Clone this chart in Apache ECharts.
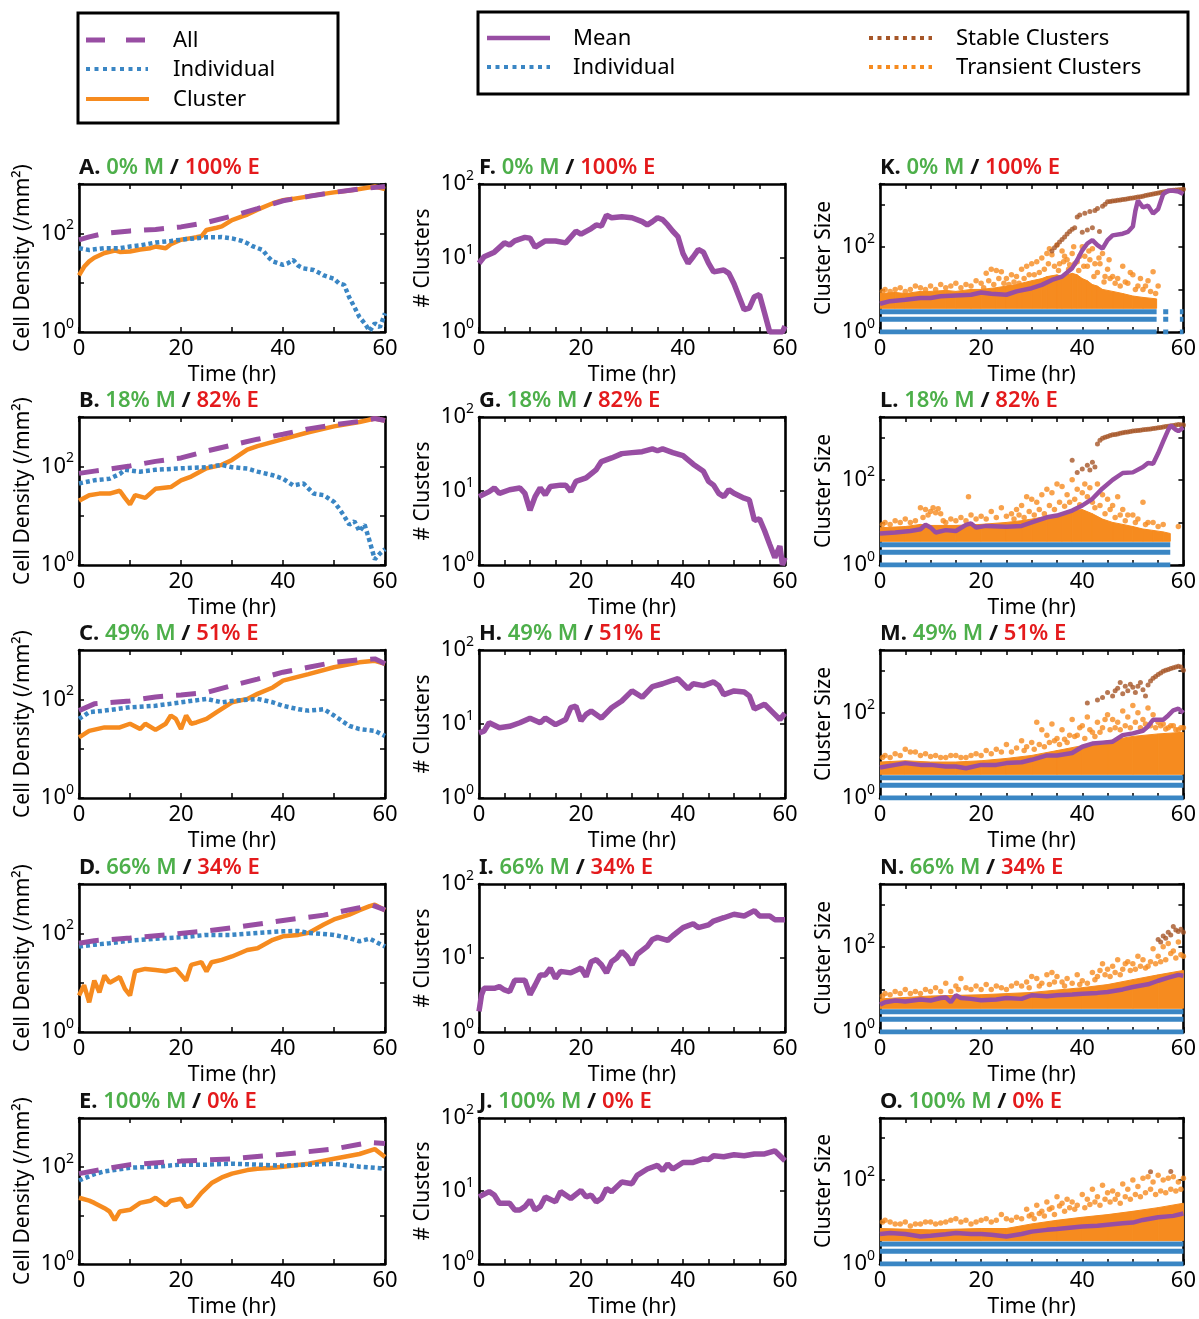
<!DOCTYPE html>
<html>
<head>
<meta charset="utf-8">
<script src="https://cdn.jsdelivr.net/npm/echarts@6/dist/echarts.min.js"></script>
<style>
html, body { margin: 0; background: #fff; }
#chart { width: 1199px; height: 1319px; }
</style>
</head>
<body>
<div id="chart"></div>
<script>
// ---- data: [time (hr), value] ----
// column 1: cell density (/mm2)
var allA = [[0,74],[2,85],[5,100],[10,112],[15,120],[20,135],[25,166],[30,224],[35,316],[40,457],[45,562],[50,676],[55,794],[60,891]];
var indA = [[0,50],[2,46],[5,50],[8,50],[10,54],[12,57],[15,65],[18,70],[20,74],[22,78],[25,83],[28,84],[30,79],[32,70],[33,63],[34,55],[36,46],[37,34],[38,27],[40,23],[41,25],[42,29],[43,22],[44,19.5],[46,18],[47,16],[48,14],[50,12],[51,9.6],[52,9],[53,5],[54,3.2],[55,2],[56,1.5],[57,1.05],[58,1.5],[59,1.25],[60,2.4]];
var cluA = [[0,14],[1,21],[2,27],[3,32],[5,40],[7,45],[8,42],[10,43],[12,47],[14,50],[15,54],[17,50],[18,60],[20,74],[22,80],[23,83],[24,87],[25,117],[27,130],[28,138],[30,186],[32,220],[33,240],[35,302],[38,407],[40,468],[42,500],[45,562],[48,630],[50,676],[53,740],[55,794],[58,891],[60,794]];

var allB = [[0,72],[3,80],[5,85],[10,102],[15,126],[20,148],[25,204],[30,269],[35,355],[40,447],[45,575],[50,692],[55,813],[58,933],[60,851]];
var indB = [[0,45],[3,52],[6,56],[8,70],[9,85],[12,78],[15,85],[20,91],[25,96],[28,107],[30,96],[33,90],[35,78],[38,66],[40,56],[42,41],[44,45],[46,28],[48,26],[50,19],[51,14],[52,9.8],[53,6.6],[54,7.7],[55,4.8],[56,6.6],[57,3],[58,1.3],[59,1.7],[60,2.1]];
var cluB = [[0,20],[2,26],[4,28],[6,28],[8,32],[9,23],[10,17],[11,26],[13,23],[15,35],[18,38],[20,52],[22,62],[25,91],[28,107],[30,135],[33,219],[35,257],[40,355],[45,490],[50,646],[55,794],[58,933],[60,851]];

var allC = [[0,59],[3,81],[10,93],[15,112],[20,123],[25,138],[30,190],[35,257],[40,355],[45,447],[50,562],[55,631],[58,661],[60,525]];
var indC = [[0,40],[2,55],[5,59],[10,69],[15,74],[20,87],[25,102],[28,87],[30,93],[35,102],[38,87],[40,74],[43,63],[45,59],[48,63],[50,47],[53,29],[55,25],[58,23],[60,18]];
var cluC = [[0,17],[2,23],[5,27],[8,27],[10,32],[12,25],[13,32],[15,24],[17,32],[18,47],[19,40],[20,25],[21,47],[22,32],[23,34],[25,40],[27,55],[30,87],[33,102],[35,129],[38,174],[40,240],[45,324],[50,447],[55,562],[58,603],[60,525]];

var allD = [[0,63],[3,71],[10,80],[17,93],[25,112],[32,138],[40,182],[48,234],[55,331],[57,389],[60,300]];
var indD = [[0,54],[3,59],[6,63],[10,71],[15,78],[20,83],[25,93],[30,93],[35,102],[40,110],[43,112],[45,102],[50,93],[53,80],[55,69],[57,78],[60,54]];
var cluD = [[0,5.5],[1,8.9],[2,4],[3,11],[4,6.4],[5,14],[6,10],[8,13],[9,7.5],[10,5.5],[11,17],[13,19],[15,18],[17,17],[19,19],[21,11],[22,23],[24,26],[25,17],[26,26],[28,29],[30,34],[33,46],[35,50],[38,74],[40,87],[43,93],[45,102],[48,151],[50,191],[53,240],[55,295],[57,355],[58,380],[60,295]];

var allE = [[0,72],[5,90],[10,110],[20,130],[30,145],[40,180],[50,230],[57,316],[60,300]];
var indE = [[0,52],[3,70],[5,80],[10,95],[15,100],[20,110],[25,110],[30,115],[35,110],[40,105],[45,110],[50,115],[55,100],[60,91]];
var cluE = [[0,23],[2,20],[3,18],[5,14],[6,12],[7,8],[8,12],[10,13],[12,18],[14,20],[15,23],[17,16],[18,20],[20,22],[21,15],[22,16],[24,29],[26,46],[28,60],[30,72],[33,85],[35,91],[38,95],[40,100],[45,115],[50,145],[55,182],[58,229],[60,158]];

// column 2: number of clusters
var numF = [[0,8.5],[1,10.4],[3,12],[5,16],[6,15],[7,17],[9,19],[10,18.5],[11,14],[13,17],[15,17],[17,16],[19,23],[20,21],[22,25],[23,28],[24,27],[25,38],[26,35],[28,36],[30,35],[32,31],[33,28],[34,31],[35,35],[36,33],[37,28],[38,23],[39,19.5],[40,11.5],[41,8.5],[42,10.4],[43,13],[44,12],[45,8.5],[46,6.5],[48,6.9],[49,6.2],[50,4.5],[51,3],[52,2],[53,2.1],[54,3],[55,3.2],[56,1.8],[57,1],[59.5,1],[60,1.2]];
var numG = [[0,8.4],[2,9.8],[3,11],[4,9.3],[6,10.4],[8,11],[9,9.3],[10,5.5],[11,8.4],[12,11],[13,8.9],[14,11.5],[16,12],[17,12],[18,9.8],[19,13.5],[21,15],[23,19.5],[24,25],[26,28],[28,32],[30,33],[32,34],[34,37],[35,35],[36,37],[38,33],[40,30],[42,23],[44,18.5],[45,13.5],[46,12],[47,9.3],[48,8.4],[49,10.4],[50,9.3],[52,8],[53,7.6],[54,4],[55,4.2],[56,2.9],[57,1.9],[58,1.26],[59,1.8],[59.5,1],[60,1.26]];
var numH = [[0,7.6],[1,8],[2,10.4],[4,8.9],[6,9.3],[8,10.4],[10,12],[12,10.4],[13,12],[15,9.8],[17,11.5],[18,16.6],[19,17.5],[20,11],[21,13.5],[22,15],[24,12],[26,16.6],[28,20.5],[30,28],[32,23],[34,32],[36,35],[38,39],[39,41],[40,35],[41,30],[42,35],[44,33],[46,37],[47,33],[48,25],[50,28],[52,27],[53,24],[54,16],[56,18.5],[58,13.5],[59,11.5],[60,14]];
var numI = [[0,1.9],[0.5,3.2],[1,3.9],[3,3.9],[4,4.1],[5,3.7],[6,3.5],[7,5],[9,5],[10,3.2],[11,4.3],[12,5.9],[13,5.9],[14,7.3],[15,5.3],[16,6.6],[18,6.3],[20,7.3],[21,5.6],[22,8.9],[23,9.5],[24,8.1],[25,6.3],[26,8.9],[27,10],[28,12.3],[29,10.5],[30,8.1],[31,11.2],[33,14.4],[34,17.8],[35,19],[37,17.3],[38,20],[40,25.7],[42,29],[43,25.7],[45,28],[46,31.6],[48,35],[50,39],[52,37],[54,43.6],[55,37],[57,37],[58,33],[60,33]];
var numJ = [[0,8.3],[2,9.8],[3,8.8],[4,6.8],[6,6.8],[7,5.5],[8,5.5],[9,6.1],[10,7.5],[11,5.5],[12,6.1],[13,8.3],[15,7.1],[16,9.8],[18,7.9],[20,10.2],[21,8.3],[22,8.8],[23,7.1],[24,7.9],[25,10.8],[26,9.8],[28,13.3],[30,12.6],[31,16.4],[33,20],[35,22.4],[36,19],[37,23.5],[38,20],[40,24.6],[42,24.6],[44,27.5],[45,27],[46,30.4],[48,29.5],[50,31.3],[52,30.4],[54,32.2],[56,32.2],[58,35.5],[59,30.4],[60,26]];

// column 3: cluster size
var meanK = [[0,4.6],[2,5.3],[5,5.7],[8,6.3],[10,6.3],[12,6.9],[15,7.2],[18,7.5],[20,8.5],[22,7.9],[25,7.5],[27,9],[30,10.7],[32,12.8],[34,16.7],[36,20],[38,31.6],[39,49],[40,83],[41,120],[42,144],[43,110],[44,91],[45,144],[46,186],[48,204],[49,224],[50,300],[50.5,700],[51,1230],[52,851],[53,933],[54,603],[55,776],[56,1738],[57,2089],[58,2089],[59,2000],[60,1738]];
var stableK = [[34,80],[34.5,95],[35,110],[35.5,130],[36,150],[36.5,170],[37,200],[37.5,230],[38,260],[38.5,280],[39,500],[39.5,560],[40,220],[40.5,620],[41,250],[41.5,680],[42,280],[42.5,720],[43,800],[43.4,230],[44,900],[44.5,1000],[45,1150],[45.5,1170],[46,1200],[46.5,1220],[47,1250],[47.5,1270],[48,1300],[48.5,1320],[49,1350],[49.5,1380],[50,1400],[50.5,1440],[51,1480],[51.5,1510],[52,1550],[52.5,1600],[53,1650],[53.5,1700],[54,1750],[54.5,1800],[55,1850],[55.5,1900],[56,1950],[56.5,2000],[57,2050],[57.5,2100],[58,2150],[58.5,2180],[59,2200],[59.5,2220],[60,2250]];
var denseK = [[0,8],[3,8.5],[5,8],[8,9],[10,9],[13,9.5],[15,9],[18,10],[20,10],[23,11],[25,12],[27,13],[28,14],[30,16],[32,18],[33,20],[35,22],[36,20],[38,24],[39,22],[40,18],[41,16],[42,13],[43,12],[44,10],[46,9],[48,8],[50,7],[52,6.5],[54.7,6]];
var sparseK = [[0.5,9],[1,10],[2,9],[3,10],[4,11],[5,9],[6,10],[7,12],[8,11],[9,10],[10,12],[11,10],[12,13],[13,11],[14,12],[15,14],[16,11],[17,13],[18,12],[19,16],[20,14],[20.5,11],[21,24],[21.5,16],[22,30],[22.5,13],[23,28],[23.5,18],[24,26],[24.5,14],[25,18],[25.5,13],[26,22],[26.5,15],[27,20],[27.5,14],[28,30],[28.5,18],[29,35],[29.5,22],[30,40],[30.5,22],[31,45],[31.5,25],[32,55],[32.5,30],[33,70],[33.3,40],[33.5,90],[34,65],[34.5,35],[35,110],[35.3,28],[35.5,40],[36,80],[36.3,45],[36.5,60],[37,50],[37.3,30],[37.5,38],[38,70],[38.3,100],[38.5,40],[39,45],[39.3,28],[39.5,60],[40,100],[40.3,35],[40.5,60],[41,35],[41.3,80],[41.5,50],[42,90],[42.3,20],[42.5,40],[43,25],[43.3,55],[43.5,40],[44,70],[44.3,15],[44.5,20],[45,30],[45.3,50],[45.5,18],[46,20],[46.5,14],[47,18],[47.5,12],[48,35],[48.5,15],[49,14],[49.5,25],[50,22],[50.5,10],[51,12],[51.5,18],[52,10],[52.5,12],[53,16],[53.5,9],[54,26],[54.5,8],[55,12]];
var spanK = [[0,54.7],[56,57],[59.3,60]];

var meanL = [[0,5.5],[3,5.8],[6,6.3],[8,6.9],[9,8.8],[10,7.6],[11,5.8],[13,6.6],[15,6.3],[17,8.8],[18,9.5],[19,7.6],[21,8.3],[25,7.9],[28,8.3],[30,10],[33,13.2],[35,14.5],[38,19],[40,25],[42,36],[44,63],[46,100],[48,145],[50,150],[52,200],[53,250],[54,240],[55,420],[56,800],[57,1500],[57.5,1900],[58.5,1500],[59,1400],[60,1700]];
var stableL = [[38,290],[39,150],[40,180],[41,220],[41.5,170],[42,260],[42.5,200],[43,700],[43.5,850],[44,950],[44.5,1000],[45,1050],[45.5,1100],[46,1150],[46.5,1170],[47,1200],[47.5,1240],[48,1280],[48.5,1310],[49,1340],[49.5,1370],[50,1400],[50.5,1420],[51,1450],[51.5,1470],[52,1500],[52.5,1520],[53,1550],[53.5,1570],[54,1600],[54.5,1640],[55,1680],[55.5,1710],[56,1750],[56.5,1790],[57,1830],[57.5,1870],[58,1900],[58.5,1950],[59,2000],[59.5,1980],[60,1950]];
var denseL = [[0,7.5],[5,8],[8,9],[10,8.5],[15,8.5],[20,9],[25,10],[28,11],[30,12],[33,14],[36,16],[38,19],[40,20],[42,16],[44,12],[46,10],[48,9],[50,8],[52,7],[54,6.5],[56,6],[57.4,5.5]];
var sparseL = [[0.5,9],[1,10],[2,9],[3,11],[4,10],[5,12],[6,10],[7,11],[8,22],[8.5,13],[9,20],[9.5,15],[10,18],[10.5,22],[11,17],[11.5,21],[12,16],[12.5,11],[13,10],[14,12],[15,11],[16,13],[17,11],[17.5,40],[18,15],[19,12],[20,14],[21,12],[22,18],[23,13],[24,22],[25,14],[26,16],[26.5,12],[27,20],[27.5,15],[28,25],[28.5,13],[29,40],[29.5,18],[30,35],[30.5,15],[31,30],[31.5,20],[32,45],[32.5,16],[33,60],[33.5,25],[34,50],[34.5,20],[35,80],[35.5,30],[36,70],[36.5,24],[37,45],[37.5,30],[38,100],[38.5,35],[39,60],[39.5,26],[40,50],[40.5,80],[41,40],[41.5,65],[42,30],[42.5,22],[43,80],[43.5,25],[44,45],[44.5,16],[45,35],[45.5,20],[46,25],[46.5,13],[47,40],[47.5,15],[48,20],[48.5,11],[49,15],[50,15],[50.5,10],[51,12],[52,30],[52.5,9],[53,10],[54,10],[55,8],[56,9],[59,8]];
var spanL = [[0,57.4]];

var meanM = [[0,5.2],[3,6],[5,6.6],[8,6],[10,6],[13,5.5],[15,5.5],[17,5],[20,6],[23,6],[25,6.6],[28,6.9],[30,7.9],[33,10],[35,10],[38,11.4],[40,16],[42,19],[44,20],[46,21],[48,30],[50,33],[52,38],[53,48],[54,69],[56,69],[57,87],[58,115],[59,126],[60,100]];
var stableM = [[41,170],[43,200],[44,230],[45,300],[46,250],[46.5,330],[47,380],[47.5,520],[48,280],[48.5,420],[49,330],[49.5,470],[50,400],[50.5,300],[51,420],[51.5,520],[52,350],[52.5,250],[53,450],[53.5,560],[54,650],[54.5,720],[55,800],[55.5,870],[56,950],[56.5,1000],[57,1050],[57.5,1100],[58,1150],[58.5,1200],[59,1250],[59.5,1200],[60,1000]];
var denseM = [[0,7],[5,7.5],[10,7],[15,7],[20,7.5],[25,8.5],[30,10],[35,13],[40,17],[45,22],[50,28],[55,32],[60,35]];
var sparseM = [[0.5,9],[1,10],[2,9],[3,11],[4,10],[5,14],[6,12],[7,12],[8,10],[9,11],[10,9.5],[11,10],[12,9],[13,9],[14,10],[15,10],[16,9],[17,9],[18,10],[19,11],[20,10],[21,13],[22,11],[23,14],[24,12],[25,18],[26,12],[27,15],[28,22],[28.5,13],[29,16],[30,20],[30.5,14],[31,60],[31.5,18],[32,40],[32.5,16],[33,30],[33.5,20],[34,55],[34.5,22],[35,25],[35.5,18],[36,40],[36.5,24],[37,20],[37.5,30],[38,70],[38.5,28],[39,30],[39.5,45],[40,50],[40.5,25],[41,80],[41.5,40],[42,35],[42.5,28],[43,60],[43.5,35],[44,45],[44.5,70],[45,90],[45.5,40],[46,70],[46.5,45],[47,60],[47.5,40],[48,110],[48.5,50],[49,80],[49.5,45],[50,150],[50.5,60],[51,100],[51.5,45],[52,70],[52.5,55],[53,130],[53.5,50],[54,90],[54.5,45],[55,60],[55.5,50],[56,55],[56.5,42],[57,45],[57.5,50],[58,50],[58.5,40],[59,40],[59.5,45],[60,45]];
var spanM = [[0,60]];

var meanN = [[0,4.4],[1,5],[3,5.5],[5,5.2],[8,5.8],[10,5.5],[12,6.3],[13,6.5],[14,5],[15,7.3],[16,6.3],[18,6],[20,5.6],[23,5.8],[25,6.3],[28,6],[30,7.3],[33,6.9],[35,7.3],[38,7.6],[40,7.9],[43,8.3],[45,8.7],[48,10],[50,11.4],[53,13.2],[55,16],[57,19],[59,22],[60,21]];
var stableN = [[55,150],[55.5,130],[56,180],[56.5,160],[57,220],[57.5,190],[58,300],[58.5,250],[59,230],[59.5,260],[60,220]];
var denseN = [[0,6],[10,7],[20,7.5],[30,8.5],[40,11],[45,13],[50,17],[55,22],[60,28]];
var sparseN = [[0.5,7],[1,8],[2,7.5],[3,9],[4,8],[5,10],[6,8],[7,9],[8,8],[9,10],[10,9],[11,11],[12,9],[13,14],[14,9],[15,12],[15.5,10],[16,18],[17,11],[18,10],[19,12],[20,10],[21,13],[22,10],[23,12],[24,11],[25,10],[26,12],[27,14],[28,12],[29,15],[29.5,11],[30,20],[31,18],[31.5,12],[32,14],[33,22],[33.5,13],[34,25],[34.5,15],[35,20],[36,15],[36.5,12],[37,18],[38,14],[39,22],[39.5,13],[40,16],[41,14],[42,25],[42.5,17],[43,20],[43.5,28],[44,40],[44.5,22],[45,30],[45.5,20],[46,35],[46.5,25],[47,50],[47.5,22],[48,30],[48.5,40],[49,45],[49.5,28],[50,40],[50.5,30],[51,60],[51.5,35],[52,50],[52.5,32],[53,35],[53.5,45],[54,90],[54.5,40],[55,60],[55.5,45],[56,100],[56.5,50],[57,120],[57.5,70],[58,80],[58.5,55],[59,130],[59.5,65],[60,60]];
var spanN = [[0,60]];

var meanO = [[0,5.2],[2,5.5],[5,5.2],[8,4.5],[10,4.7],[13,5.1],[15,5.5],[18,5.2],[20,5.2],[22,5],[25,4.5],[28,5.2],[30,5.9],[33,6.5],[35,6.8],[38,7.4],[40,7.8],[43,8.1],[45,8.6],[48,9.4],[50,9.7],[52,11.2],[55,13],[58,14],[60,16]];
var stableO = [[53.5,158],[57.5,160]];
var denseO = [[0,7],[10,6.5],[20,7],[25,7],[30,9],[35,11],[40,13],[45,15],[50,18],[55,22],[60,28]];
var sparseO = [[0.5,10],[1,11],[2,10],[3,9],[4,9],[5,10],[6,8],[7,9],[8,9],[9,10],[10,10],[11,9],[12,9.5],[13,10],[14,11],[15,12],[16,10],[17,11],[18,9],[19,10],[20,11],[21,12],[22,10],[23,11],[24,15],[25,12],[26,11],[27,13],[28,12],[29,20],[29.5,14],[30,15],[30.5,12],[31,25],[31.5,16],[32,18],[32.5,14],[33,30],[33.5,20],[34,22],[34.5,15],[35,40],[35.5,24],[36,28],[36.5,18],[37,35],[37.5,22],[38,30],[38.5,20],[39,25],[40,45],[40.5,22],[41,35],[41.5,26],[42,60],[42.5,30],[43,40],[43.5,25],[44,75],[44.5,35],[45,50],[45.5,30],[46,55],[46.5,35],[47,45],[47.5,28],[48,80],[48.5,40],[49,60],[49.5,35],[50,100],[50.5,45],[51,70],[51.5,40],[52,110],[52.5,50],[53,120],[53.5,60],[54,90],[54.5,45],[55,130],[55.5,55],[56,100],[56.5,50],[57,110],[57.5,60],[58,120],[58.5,55],[59,90],[59.5,60],[60,110]];
var spanO = [[0,60]];

var indLevels = [1, 2, 3];   // single cells and small groups, drawn as flat bands
var denseFloor = 3.6;        // lower edge of the dense transient cloud

var letters = ['A','B','C','D','E','F','G','H','I','J','K','L','M','N','O'];
var mPct = ['0%','18%','49%','66%','100%'];
var ePct = ['100%','82%','51%','34%','0%'];

// ---- layout / style ----
var FONT = 'Noto Sans';
var purple = '#984ea3', blue = '#3a86c4', orange = '#f68b1f', brown = '#a65628';
var colLeft = [79, 479, 880], rowTop = [184, 417, 650, 884, 1118];
var plotW = 306, plotH = 148;

var grids = [], xAxes = [], yAxes = [], series = [], titles = [];

function powLabel(shown) {
    return function (v) {
        var e = Math.log(v) / Math.LN10, r = Math.round(e);
        if (Math.abs(e - r) > 1e-6 || shown.indexOf(r) < 0) return '';
        return '{b|10}{s|' + r + '}';
    };
}

function addPanel(col, row, yMax, shown, xStep, yName) {
    var gi = grids.length;
    grids.push({left: colLeft[col], top: rowTop[row], width: plotW, height: plotH});
    var line = {show: true, onZero: false, lineStyle: {color: '#000', width: 2.6}};
    var tick = {show: true, inside: true, length: 5, lineStyle: {color: '#000', width: 1.5}};
    var nameStyle = {fontSize: 21, color: '#000', fontFamily: FONT};
    xAxes.push({
        gridIndex: gi, type: 'value', min: 0, max: 60, interval: xStep, position: 'bottom',
        axisLine: line, axisTick: tick, splitLine: {show: false},
        axisLabel: {formatter: function (v) { return v % 20 === 0 ? String(v) : ''; },
            fontSize: 22, color: '#000', margin: 6, fontFamily: FONT},
        name: 'Time (hr)', nameLocation: 'middle', nameGap: 33, nameTextStyle: nameStyle
    });
    xAxes.push({
        gridIndex: gi, type: 'value', min: 0, max: 60, interval: xStep, position: 'top',
        axisLine: line, axisTick: tick, splitLine: {show: false}, axisLabel: {show: false}
    });
    yAxes.push({
        gridIndex: gi, type: 'log', logBase: 10, min: 1, max: yMax, position: 'left',
        axisLine: line, axisTick: tick, splitLine: {show: false},
        axisLabel: {formatter: powLabel(shown), margin: 5, color: '#000',
            rich: {
                b: {fontSize: 22, lineHeight: 30, color: '#000', fontFamily: FONT},
                s: {fontSize: 14, lineHeight: 14, verticalAlign: 'top', color: '#000', fontFamily: FONT}
            }},
        name: yName, nameLocation: 'middle', nameGap: 45, nameTextStyle: nameStyle
    });
    yAxes.push({
        gridIndex: gi, type: 'log', logBase: 10, min: 1, max: yMax, position: 'right',
        axisLine: line, axisTick: tick, splitLine: {show: false}, axisLabel: {show: false}
    });
    var k = col * 5 + row;
    titles.push({
        left: colLeft[col], top: rowTop[row] - 27, padding: 0,
        text: '{k|' + letters[k] + '.} {g|' + mPct[row] + ' M} {k|/} {r|' + ePct[row] + ' E}',
        textStyle: {
            fontSize: 22, fontFamily: FONT, fontWeight: 600,
            rich: {
                k: {fontSize: 22, fontFamily: FONT, fontWeight: 'bold', color: '#111'},
                g: {fontSize: 22, fontFamily: FONT, fontWeight: 600, color: '#4daf4a'},
                r: {fontSize: 22, fontFamily: FONT, fontWeight: 600, color: '#e41a1c'}
            }
        }
    });
    return gi;
}

function lineSeries(gi, name, data, color, width, type, z) {
    return {
        type: 'line', name: name, xAxisIndex: 2 * gi, yAxisIndex: 2 * gi, data: data,
        symbol: 'none', showSymbol: false, clip: true, z: z,
        lineStyle: {color: color, width: width, type: type, cap: 'butt'}
    };
}

function scatterSeries(gi, name, data, color, size, z) {
    return {
        type: 'scatter', name: name, xAxisIndex: 2 * gi, yAxisIndex: 2 * gi, data: data,
        symbolSize: size, itemStyle: {color: color}, clip: true, z: z
    };
}

function bandSeries(gi, data) {
    return {
        type: 'custom', name: 'Transient Clusters', xAxisIndex: 2 * gi, yAxisIndex: 2 * gi,
        data: data, clip: true, z: 2,
        renderItem: function (params, api) {
            var i = params.dataIndex;
            if (i >= data.length - 1) return null;
            var a = data[i], b = data[i + 1];
            return {
                type: 'polygon',
                shape: {points: [api.coord([a[0], denseFloor]), api.coord([a[0], a[1]]),
                                 api.coord([b[0], b[1]]), api.coord([b[0], denseFloor])]},
                style: {fill: orange, stroke: orange, lineWidth: 1}
            };
        }
    };
}

function levelLines(spans) {
    var d = [];
    indLevels.forEach(function (lv) {
        spans.forEach(function (s) { d.push([s[0], lv], [s[1], lv], [s[1], '-']); });
    });
    return d;
}

// column 1
[[allA, indA, cluA], [allB, indB, cluB], [allC, indC, cluC], [allD, indD, cluD], [allE, indE, cluE]]
.forEach(function (p, row) {
    var gi = addPanel(0, row, 1000, [0, 2], 10, 'Cell Density (/mm\u00B2)');
    series.push(lineSeries(gi, 'Cluster', p[2], orange, 4.5, 'solid', 3));
    series.push(lineSeries(gi, 'Individual', p[1], blue, 4.5, [4, 3], 4));
    series.push(lineSeries(gi, 'All', p[0], purple, 5, [20, 13], 5));
});

// column 2
[numF, numG, numH, numI, numJ].forEach(function (d, row) {
    var gi = addPanel(1, row, 100, [0, 1, 2], 5, '# Clusters');
    series.push(lineSeries(gi, 'Mean', d, purple, 5.5, 'solid', 3));
});

// column 3
[[meanK, stableK, denseK, sparseK, spanK], [meanL, stableL, denseL, sparseL, spanL],
 [meanM, stableM, denseM, sparseM, spanM], [meanN, stableN, denseN, sparseN, spanN],
 [meanO, stableO, denseO, sparseO, spanO]]
.forEach(function (p, row) {
    var gi = addPanel(2, row, 3000, [0, 2], 5, 'Cluster Size');
    series.push(lineSeries(gi, 'Individual', levelLines(p[4]), blue, 5, 'solid', 1));
    series.push(bandSeries(gi, p[2]));
    series.push(scatterSeries(gi, 'Transient Clusters', p[3], orange, 5.5, 3));
    series.push(scatterSeries(gi, 'Stable Clusters', p[1], brown, 5, 4));
    series.push(lineSeries(gi, 'Mean', p[0], purple, 4.5, 'solid', 5));
});

// legend boxes
function legText(x, y, t) {
    return {type: 'text', x: x, y: y, style: {text: t, fontSize: 22, fontFamily: FONT, fill: '#000', verticalAlign: 'middle'}};
}
function legLine(x1, x2, y, color, width, dash) {
    return {type: 'line', shape: {x1: x1, y1: y, x2: x2, y2: y}, style: {stroke: color, lineWidth: width, lineDash: dash}};
}
var graphics = [
    {type: 'rect', shape: {x: 78, y: 13, width: 260, height: 110}, style: {fill: 'none', stroke: '#000', lineWidth: 3}},
    legLine(86, 146, 40, purple, 5, [19, 21]), legText(173, 41, 'All'),
    legLine(86, 148, 69, blue, 4, [4, 4.5]), legText(173, 70, 'Individual'),
    legLine(86, 149, 99, orange, 4, null), legText(173, 100, 'Cluster'),
    {type: 'rect', shape: {x: 478, y: 12, width: 710, height: 82}, style: {fill: 'none', stroke: '#000', lineWidth: 3}},
    legLine(487, 550, 38, purple, 4.5, null), legText(573, 39, 'Mean'),
    legLine(487, 550, 67, blue, 4, [4, 4.5]), legText(573, 68, 'Individual'),
    legLine(869, 932, 38, brown, 4, [4, 4.5]), legText(956, 39, 'Stable Clusters'),
    legLine(869, 932, 67, orange, 4, [4, 4.5]), legText(956, 68, 'Transient Clusters')
];

var chart = echarts.init(document.getElementById('chart'));
chart.setOption({
    animation: false,
    backgroundColor: '#fff',
    textStyle: {fontFamily: FONT},
    title: titles,
    grid: grids,
    xAxis: xAxes,
    yAxis: yAxes,
    graphic: graphics,
    series: series
});
</script>
</body>
</html>
